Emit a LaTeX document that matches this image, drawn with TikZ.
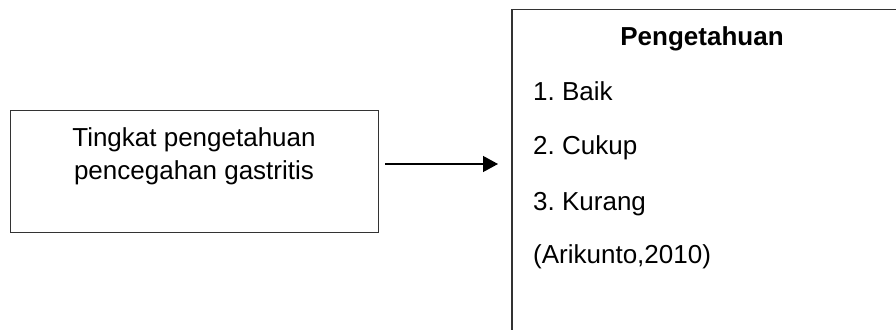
\documentclass[tikz,border=0pt]{standalone}
\usepackage{fontspec}
\setmainfont{Liberation Sans}
\usetikzlibrary{arrows.meta}

\begin{document}
\begin{tikzpicture}[x=1pt,y=-1pt,
  kotak/.style={draw=black!80, line width=1.3pt},
  teks/.style={font=\fontsize{26}{31}\selectfont, anchor=base, inner sep=0pt}]

\useasboundingbox (0,0) rectangle (896,329);
\clip (0,0) rectangle (896,329);

% ===== Kotak variabel =====
\node[kotak, minimum width=368pt, minimum height=122pt, anchor=north west] (var) at (10,110) {};
\node[teks] (var1) at (194,146) {Tingkat pengetahuan};
\node[teks] (var2) at (194,179) {pencegahan gastritis};

% ===== Kotak pengetahuan (terpotong) =====
\draw[kotak] (512,9.5) rectangle (910,345);
\node[teks, font=\fontsize{26}{31}\selectfont\bfseries] (judul) at (702,46) {Pengetahuan};
\node[teks, anchor=base west] (baik) at (533,100) {1.\ Baik};
\node[teks, anchor=base west] (cukup) at (533,154) {2.\ Cukup};
\node[teks, anchor=base west] (kurang) at (533,210) {3.\ Kurang};
\node[teks, anchor=base west] (sumber) at (533,263) {(Arikunto,2010)};

% ===== Panah =====
\coordinate (p1) at (385,164);
\coordinate (p2) at (498,164);
\draw[line width=1.3pt, -{Triangle[length=15pt,width=16pt]}] (p1) -- (p2);

\end{tikzpicture}
\end{document}
